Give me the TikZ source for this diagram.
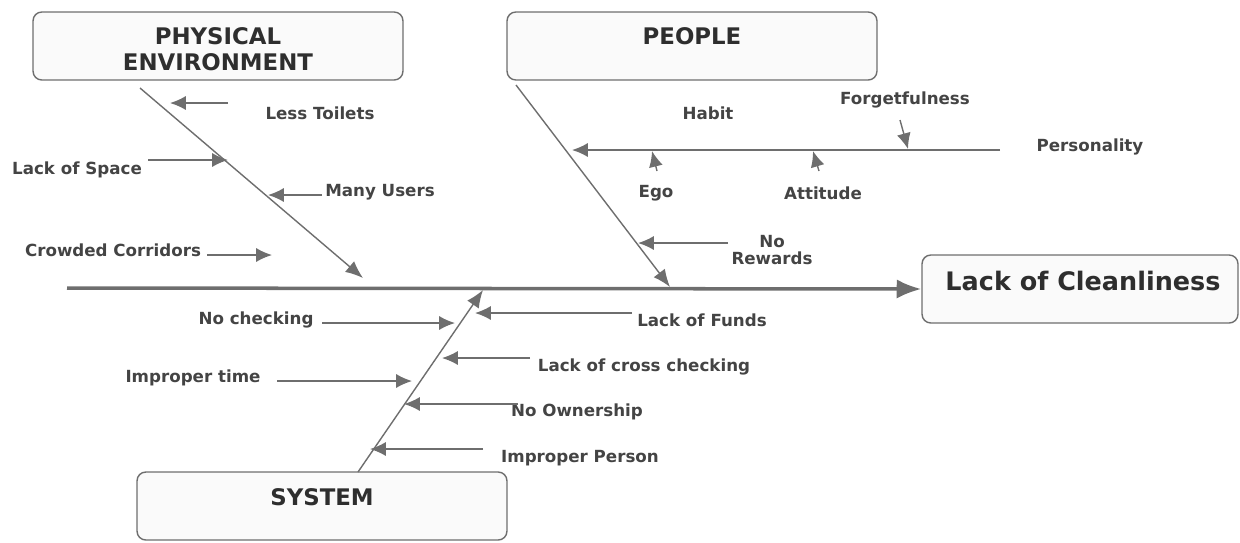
\documentclass[tikz,border=0pt]{standalone}
\usepackage{fontspec}
\setmainfont{DejaVu Sans}
\usetikzlibrary{arrows.meta}
\definecolor{bone}{HTML}{6E6E6E}
\definecolor{boxfill}{HTML}{FAFAFA}
\definecolor{ink}{HTML}{2E2E2E}
\definecolor{soft}{HTML}{444444}
\tikzset{
  catbox/.style={draw=bone, fill=boxfill, rounded corners=5pt, line width=0.8pt, minimum width=7.4cm, minimum height=1.36cm, inner sep=0pt},
  spine/.style={draw=bone, line width=2pt, -{Latex[length=14pt,width=11pt]}},
  bone/.style={draw=bone, line width=0.8pt, -{Latex[length=10pt,width=8pt]}},
  twig/.style={draw=bone, line width=0.8pt, -{Latex[length=9pt,width=8pt]}},
  ttl/.style={text=ink, font=\bfseries\fontsize{13}{15}\selectfont, align=center},
  lbl/.style={text=soft, font=\bfseries\fontsize{9.5}{9.5}\selectfont, align=center}
}

\begin{document}
\begin{tikzpicture}[x=0.02cm, y=-0.02cm]
  \useasboundingbox (0,0) rectangle (1240,542);

  \node[catbox] (phys) at (218,46) {};
  \node[catbox] (people) at (692,46) {};
  \node[catbox] (system) at (322,506) {};
  \node[catbox, minimum width=6.32cm] (effect) at (1080,289) {};

  \node[ttl] (physT) at (218,49) {PHYSICAL\\ENVIRONMENT};
  \node[ttl] (peopleT) at (692,36) {PEOPLE};
  \node[ttl] (systemT) at (322,497) {SYSTEM};
  \node[ttl, font=\bfseries\fontsize{14.5}{15}\selectfont] (effectT) at (1083,281) {Lack of Cleanliness};

  \coordinate (spineS) at (67,288);
  \draw[spine] (spineS) -- (effect.west);

  \coordinate (physS) at (140,88);
  \coordinate (physE) at (363,278);
  \coordinate (peopleS) at (516,85);
  \coordinate (peopleE) at (670,287);
  \coordinate (systemS) at (358,472);
  \coordinate (systemE) at (483,290);
  \draw[bone] (physS) -- (physE);
  \draw[bone] (peopleS) -- (peopleE);
  \draw[bone] (systemS) -- (systemE);

  \node[lbl] (toilets) at (320,113) {Less Toilets};
  \node[lbl] (space) at (77,170) {Lack of Space};
  \node[lbl] (users) at (380,192) {Many Users};
  \node[lbl] (corridors) at (113,250) {Crowded Corridors};
  \coordinate (toiletsA) at (228,103);
  \coordinate (toiletsB) at (170,103);
  \coordinate (spaceA) at (148,160);
  \coordinate (spaceB) at (228,160);
  \coordinate (usersA) at (322,195);
  \coordinate (usersB) at (268,195);
  \coordinate (corridorsA) at (207,255);
  \coordinate (corridorsB) at (272,255);
  \draw[twig] (toiletsA) -- (toiletsB);
  \draw[twig] (spaceA) -- (spaceB);
  \draw[twig] (usersA) -- (usersB);
  \draw[twig] (corridorsA) -- (corridorsB);

  \node[lbl] (habit) at (708,113) {Habit};
  \node[lbl] (forget) at (905,100) {Forgetfulness};
  \node[lbl] (person) at (1090,147) {Personality};
  \node[lbl] (ego) at (656,193) {Ego};
  \node[lbl] (attitude) at (823,193) {Attitude};
  \node[lbl] (rewards) at (772,250) {No\\Rewards};
  \coordinate (personA) at (1000,150);
  \coordinate (personB) at (572,150);
  \coordinate (egoA) at (657,171);
  \coordinate (egoB) at (652,151);
  \coordinate (attitudeA) at (819,171);
  \coordinate (attitudeB) at (813,151);
  \coordinate (forgetA) at (900,120);
  \coordinate (forgetB) at (908,149);
  \coordinate (rewardsA) at (728,243);
  \coordinate (rewardsB) at (638,243);
  \draw[twig] (personA) -- (personB);
  \draw[twig] (egoA) -- (egoB);
  \draw[twig] (attitudeA) -- (attitudeB);
  \draw[twig] (forgetA) -- (forgetB);
  \draw[twig] (rewardsA) -- (rewardsB);

  \node[lbl] (checking) at (256,320) {No checking};
  \node[lbl] (funds) at (702,320) {Lack of Funds};
  \node[lbl] (cross) at (644,367) {Lack of cross checking};
  \node[lbl] (time) at (193,378) {Improper time};
  \node[lbl] (owner) at (577,412) {No Ownership};
  \node[lbl] (impperson) at (580,458) {Improper Person};
  \coordinate (checkingA) at (322,323);
  \coordinate (checkingB) at (455,323);
  \coordinate (fundsA) at (632,313);
  \coordinate (fundsB) at (475,313);
  \coordinate (crossA) at (530,358);
  \coordinate (crossB) at (442,358);
  \coordinate (timeA) at (277,381);
  \coordinate (timeB) at (412,381);
  \coordinate (ownerA) at (518,404);
  \coordinate (ownerB) at (404,404);
  \coordinate (impA) at (483,449);
  \coordinate (impB) at (370,449);
  \draw[twig] (checkingA) -- (checkingB);
  \draw[twig] (fundsA) -- (fundsB);
  \draw[twig] (crossA) -- (crossB);
  \draw[twig] (timeA) -- (timeB);
  \draw[twig] (ownerA) -- (ownerB);
  \draw[twig] (impA) -- (impB);
\end{tikzpicture}
\end{document}
